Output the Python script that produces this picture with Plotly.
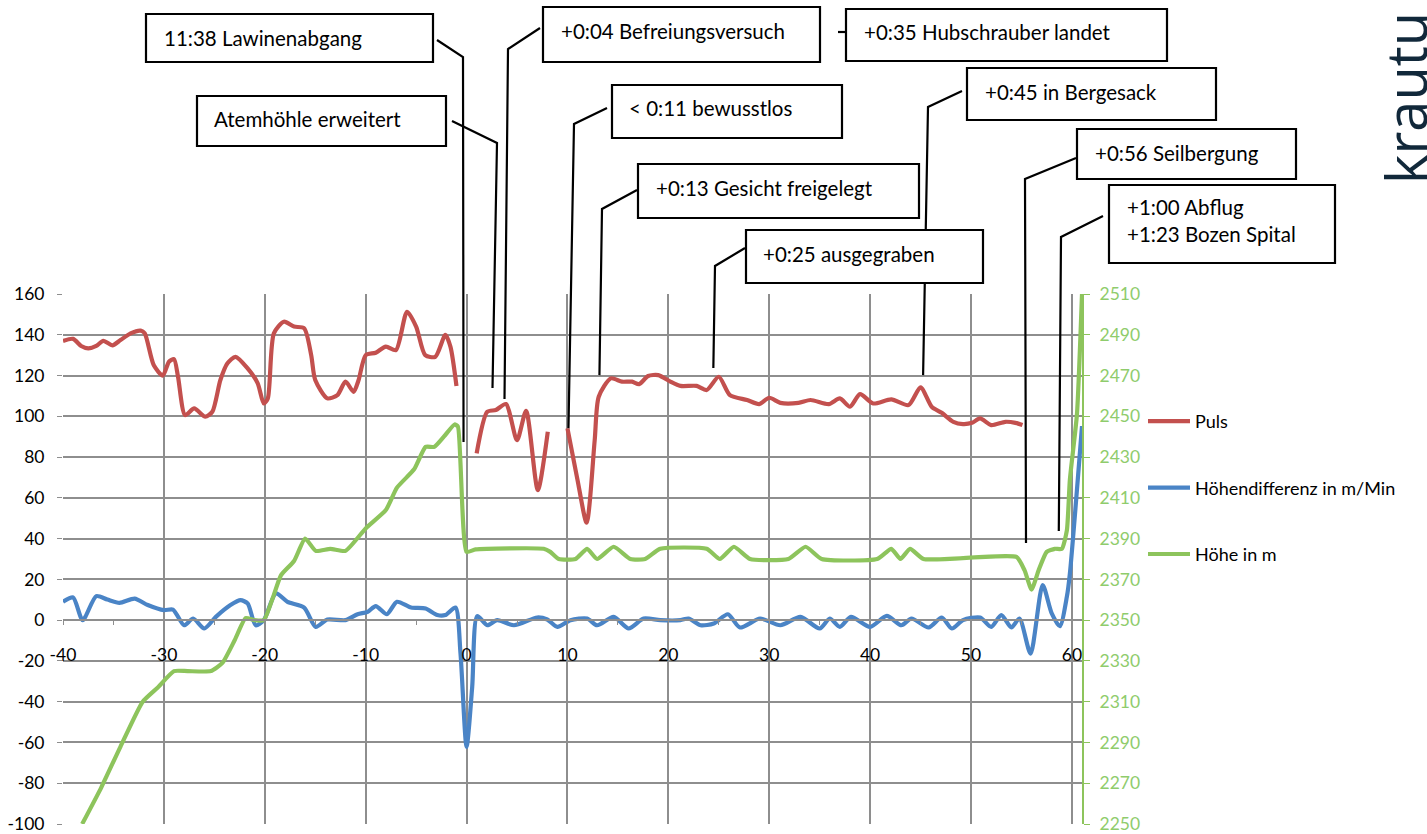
import plotly.graph_objects as go

# ---------------- data ----------------
puls_x = [-40, -39, -38.2, -37.5, -36.7, -36, -35.1, -34.3, -33.3, -32.3, -31.9, -31, -30.1, -29.5, -29, -28.6,
          -27.9, -27, -25.9, -25.2, -24.4, -23.7, -22.9, -21.7, -20.7, -20.1, -19.7, -19.1, -18.1, -17.1, -16.1,
          -15.4, -15, -13.8, -12.8, -12, -11.2, -10.7, -10, -9, -8, -7, -5.9, -5, -4.1, -3.1, -2.1, -1.6, -1,
          None,
          1, 2.05, 2.9, 3.9, 5, 5.9, 7.06, 8.05,
          None,
          10, 11, 11.9, 12.7, 13.1, 14.3, 15.4, 16.4, 17.1, 18, 19, 20.2, 21.2, 22.8, 23.8, 25, 26.1, 27.8, 29,
          30, 31.1, 32.9, 34.1, 35.9, 37, 38, 39, 40.3, 42.1, 43.8, 45, 46.1, 47.1, 48.25, 49.2, 50.1, 50.9, 52,
          53.4, 54.4, 55.1]
puls_y = [137, 138, 134.5, 133.3, 134.5, 137, 134.8, 137.4, 140.7, 142, 140.7, 125, 120, 126.8, 128, 119.4,
          100.6, 103.9, 99.8, 102.2, 117.8, 126, 129.2, 123.5, 116.2, 106.3, 108.8, 140.7, 146.4, 144, 143.2,
          130, 117.8, 108.8, 110.4, 117, 112, 117.8, 130, 131.2, 134.2, 132.5, 151.3, 144, 130, 129.2, 139.9,
          134.2, 114.9,
          None,
          81.8, 102.2, 103.1, 106, 88.3, 102.7, 63.8, 92.4,
          None,
          94.1, 68.7, 47.8, 88.3, 109.6, 118.6, 117, 117, 115.8, 119.8, 120.2, 117, 114.9, 114.9, 112.9, 119.4,
          110.4, 108, 106, 109.1, 106.6, 106.6, 108, 106, 108.8, 104.7, 110.9, 106.3, 108.3, 105.5, 114.2,
          104.7, 101.7, 97.3, 96.2, 96.8, 99, 95.7, 97.3, 96.8, 95.7]

hdiff_x = [-40, -39, -38.05, -36.7, -35.6, -34.4, -32.9, -31.6, -30, -29.1, -28, -27.1, -26, -24.85, -23.4,
           -22.4, -21.7, -20.9, -20.1, -18.9, -17.75, -16.1, -14.95, -13.8, -12, -10.8, -9.8, -9, -7.9, -6.9,
           -5.5, -4.06, -2.9, -2.1, -1.1, -0.6, 0, 0.56, 1.06, 2.05, 3.04, 4.7, 7, 8, 9, 10.3, 11.95, 12.94,
           14.58, 16.07, 17.55, 19.2, 21.2, 22, 23.2, 24.5, 25.9, 27.1, 29.1, 31.1, 33.1, 35, 36, 37, 38.1, 40,
           41.65, 43.1, 44.1, 45.8, 47.1, 48.1, 49.2, 50.9, 52, 53, 54, 54.8, 55.9, 57.1, 58, 58.8, 59.5, 59.8,
           61]
hdiff_y = [9, 11.1, 0, 11.8, 10.1, 8.5, 10.6, 7.4, 4.9, 5.2, -2.5, 0.8, -4.1, 1.6, 7.4, 9.8, 8.2, -2.5, 0,
           13.1, 9, 6.2, -3.3, 0.3, 0, 2.9, 4.1, 6.9, 2.9, 9, 6.2, 5.7, 2.5, 2.5, 6.2, -16.4, -62.2, -32.7, 2,
           -2.5, 0, -2.5, 1.3, 0.3, -3.3, 0, 0.8, -2.5, 1.6, -4.1, 0.8, 0, 0, 0.8, -2.5, -1.6, 2.9, -3.6, 0.8,
           -2.5, 1.6, -4.1, 0.8, -3.3, 1.6, -3.3, 2.1, -2.5, 0.8, -3.6, 1.3, -4.1, 0, 1.3, -3.3, 2.5, -3.6, 0.8,
           -16.4, 17.2, 3.3, -3, 11.5, 22.9, 95.2]

hoehe_x = [-38.1, -36.2, -34.3, -32.1, -30.6, -29, -27.65, -25.35, -24.2, -23, -21.9, -21.05, -20.1, -19.2,
           -18.4, -17.1, -16, -14.95, -13.5, -12, -10, -8, -6.9, -5.2, -4.06, -3.2, -2.25, -1.19, -0.86, 0,
           0.89, 7.65, 8.3, 9.14, 10.8, 11.95, 12.94, 14.58, 16.24, 17.7, 19.2, 23.8, 25.1, 26.5, 28.1, 31.9,
           33.6, 35.2, 40.7, 42.1, 43, 43.96, 45.3, 54.5, 55.3, 56, 56.7, 57.5, 58.3, 59, 59.5, 59.8, 60.5, 61]
hoehe_y = [2250, 2268, 2288, 2310, 2317, 2325, 2325, 2325, 2329, 2340, 2351, 2350, 2350, 2361, 2372, 2379,
           2390, 2384, 2385, 2384, 2395, 2404, 2415, 2424, 2435, 2435, 2440, 2446, 2445, 2383.5, 2384.7, 2385,
           2383.5, 2380, 2380, 2385, 2380, 2386, 2380, 2380, 2385, 2385, 2380, 2386, 2380, 2380, 2386, 2380,
           2380, 2385, 2380, 2385, 2380, 2381, 2374.5, 2365, 2374.5, 2383.5, 2385, 2385, 2394, 2419, 2451, 2510]

x_ticks = [-40, -30, -20, -10, 0, 10, 20, 30, 40, 50, 60]
x_ticktext = ["-40", "-30", "-20", "-10", "0", "10", "20", "30", "40", "50", "60"]
y_ticks = [-100, -80, -60, -40, -20, 0, 20, 40, 60, 80, 100, 120, 140, 160]
y_ticktext = ["-100", "-80", "-60", "-40", "-20", "0", "20", "40", "60", "80", "100", "120", "140", "160"]
y2_ticks = [2250, 2270, 2290, 2310, 2330, 2350, 2370, 2390, 2410, 2430, 2450, 2470, 2490, 2510]

series_names = ["Puls", "Höhendifferenz in m/Min", "Höhe in m"]

# events: text, end point (minute, left-axis value)
ev_text = ["11:38 Lawinenabgang", "Atemhöhle erweitert", "+0:04 Befreiungsversuch", "+0:35 Hubschrauber landet",
           "< 0:11 bewusstlos", "+0:13 Gesicht freigelegt", "+0:25 ausgegraben", "+0:45 in Bergesack",
           "+0:56 Seilbergung", "+1:00 Abflug<br>+1:23 Bozen Spital"]
ev_x = [-0.3, 2.57, 3.76, None, 10.1, 13.17, 24.46, 45.25, 55.45, 58.7]
ev_y = [87.4, 113.9, 108.5, None, 94.2, 120.2, 123.7, 120.2, 37.8, 43.7]

# ---------------- layout constants (pixels) ----------------
W, H = 1427, 834
L, R, T, B = 63, 1082, 294, 824
X0, X1 = -40, 61
Y0, Y1 = -100, 160
PW, PH = R - L, B - T

def ppx(px):
    return (px - L) / PW

def ppy(py):
    return (B - py) / PH

def dpx(v):
    return (v - X0) / (X1 - X0)

def dpy(v):
    return (v - Y0) / (Y1 - Y0)

# box rect (px), text anchor (px), line start (px), elbow (px)
boxes = [(146, 14, 433, 62), (197, 96, 446, 146), (543, 7, 820, 62), (846, 9, 1167, 61),
         (612, 85, 842, 138), (638, 164, 919, 218), (746, 230, 983, 283), (967, 68, 1216, 120),
         (1077, 129, 1296, 179), (1109, 185, 1335, 263)]
text_pos = [(162, 38), (212, 119), (559, 31), (862, 32), (627, 108), (654, 188), (761, 254), (983, 92),
            (1093, 153), (1125, 221)]
line_start = [(437, 40), (452, 121), (540, 28), (838, 32), (607, 108), (637, 190), (745, 248), (962, 91),
              (1076, 158), (1103, 216)]
elbow = [(463, 57), (497, 143), (508, 49), None, (574, 124), (602, 209), (715, 266), (928, 107),
         (1025, 179), (1061, 237)]

RED = "#C3504E"
BLUE = "#4A84C6"
GREEN = "#8DC45C"
GREEN_TXT = "#8FCC6C"
GRID = "#8E8E8E"
FONT = "Lato"
LW = 4.2
TICK_FS = 17.5

fig = go.Figure()
fig.add_trace(go.Scatter(x=puls_x, y=puls_y, name=series_names[0], mode="lines",
                         line=dict(color=RED, width=LW, shape="spline", smoothing=0.7),
                         connectgaps=False, legendgroup="a"))
fig.add_trace(go.Scatter(x=hdiff_x, y=hdiff_y, name=series_names[1], mode="lines",
                         line=dict(color=BLUE, width=LW, shape="spline", smoothing=0.7), legendgroup="b"))
fig.add_trace(go.Scatter(x=hoehe_x, y=hoehe_y, name=series_names[2], mode="lines", yaxis="y2",
                         line=dict(color=GREEN, width=LW, shape="spline", smoothing=0.5), legendgroup="c"))

shapes = []
annotations = []
# callout lines first (below boxes)
for i in range(len(ev_text)):
    sx, sy = line_start[i]
    if elbow[i] is None:
        bx = boxes[i][0]
        path = f"M {ppx(sx)} {ppy(sy)} L {ppx(bx)} {ppy(sy)}"
    else:
        ex, ey = elbow[i]
        path = (f"M {ppx(sx)} {ppy(sy)} L {ppx(ex)} {ppy(ey)} "
                f"L {dpx(ev_x[i])} {dpy(ev_y[i])}")
    shapes.append(dict(type="path", xref="paper", yref="paper", path=path,
                       line=dict(color="black", width=2.2), layer="above"))
for i in range(len(ev_text)):
    x0, y0, x1, y1 = boxes[i]
    shapes.append(dict(type="rect", xref="paper", yref="paper",
                       x0=ppx(x0), x1=ppx(x1), y0=ppy(y1), y1=ppy(y0),
                       line=dict(color="black", width=2.2), fillcolor="white", layer="above"))
    tx, ty = text_pos[i]
    annotations.append(dict(xref="paper", yref="paper", x=ppx(tx), y=ppy(ty), text=ev_text[i],
                            showarrow=False, xanchor="left", yanchor="middle", align="left",
                            font=dict(family=FONT, size=20.5, color="black")))

annotations.append(dict(xref="paper", yref="paper", x=ppx(1405), y=ppy(186), text="krautu",
                        textangle=-90, showarrow=False, xanchor="center", yanchor="bottom",
                        font=dict(family="Open Sans", size=56, color="#11283A")))

fig.update_layout(
    width=W, height=H, autosize=False,
    margin=dict(l=L, r=W - R, t=T, b=H - B, pad=0, autoexpand=False),
    paper_bgcolor="white", plot_bgcolor="white",
    font=dict(family=FONT, size=TICK_FS, color="black"),
    showlegend=True,
    legend=dict(x=ppx(1143), y=ppy(403), xanchor="left", yanchor="top",
                font=dict(family=FONT, size=18, color="black"),
                tracegroupgap=40, itemwidth=42, bgcolor="rgba(0,0,0,0)"),
    xaxis=dict(range=[X0, X1], tickvals=x_ticks, ticktext=x_ticktext, showgrid=True, automargin=False,
               gridcolor=GRID, gridwidth=1.5, zeroline=False, showline=True, linecolor=GRID,
               linewidth=1.5, anchor="free", position=dpy(0), ticks="outside", ticklen=4,
               tickcolor=GRID, ticklabelstandoff=15, ticklabeloverflow="allow",
               minor=dict(dtick=5, ticks="outside", ticklen=4, tickcolor=GRID, showgrid=False),
               tickfont=dict(family=FONT, size=TICK_FS, color="black")),
    yaxis=dict(range=[Y0, Y1], tickvals=y_ticks, ticktext=y_ticktext, showgrid=True, automargin=False,
               gridcolor=GRID, gridwidth=1.5, zeroline=False, showline=False, ticks="outside",
               ticklen=5, tickcolor=GRID, ticklabelstandoff=9, ticklabeloverflow="allow",
               tickfont=dict(family=FONT, size=TICK_FS, color="black")),
    yaxis2=dict(range=[2250, 2510], tickvals=y2_ticks, overlaying="y", side="right", anchor="x",
                automargin=False, ticklabeloverflow="allow",
                showgrid=False, zeroline=False, showline=True, linecolor=GREEN, linewidth=2,
                ticks="outside", ticklen=6, tickcolor=GREEN, ticklabelstandoff=6,
                tickfont=dict(family=FONT, size=TICK_FS, color=GREEN_TXT)),
    shapes=shapes, annotations=annotations,
)

page_fix = (
    "var gd=document.getElementById('{plot_id}');"
    "var de=document.documentElement, bd=document.body;"
    "de.style.margin='0';de.style.padding='0';de.style.overflow='hidden';de.style.height='834px';"
    "bd.style.margin='0';bd.style.padding='0';bd.style.overflow='hidden';bd.style.height='834px';"
    "if(gd&&gd.parentElement){gd.parentElement.style.height='834px';gd.parentElement.style.overflow='hidden';"
    "gd.parentElement.style.lineHeight='0';}"
)

fig.write_html("out.html", config={"displayModeBar": False}, post_script=page_fix)
